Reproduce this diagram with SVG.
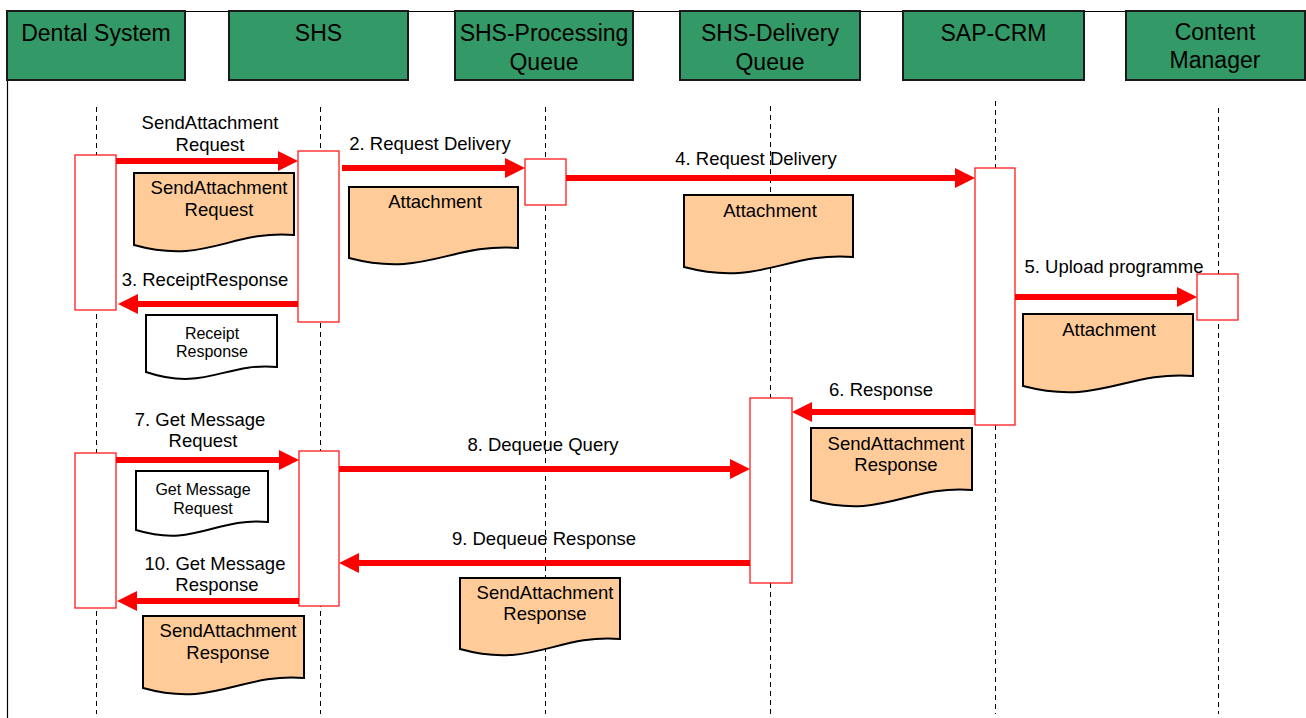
<svg xmlns="http://www.w3.org/2000/svg" width="1306" height="718" viewBox="0 0 1306 718">
<style>
text{font-family:"Liberation Sans",Arial,sans-serif;fill:#000;text-anchor:middle}
.hdr rect{fill:#339966;stroke:#1a1a1a;stroke-width:2}
.hdr text{font-size:23px}
.life{stroke:#000;stroke-width:1;stroke-dasharray:5 4;fill:none}
.act{fill:#fff;stroke:#ff1a1a;stroke-width:1.3}
.doc path{fill:#ffcc99;stroke:#000;stroke-width:2}
.doc.w path{fill:#fff}
.doc text{font-size:18.5px}
.doc.w text{font-size:16px}
.msg line{stroke:#ff0000;stroke-width:6;marker-end:url(#ah)}
.msg text{font-size:18.5px}
</style>
<defs>
<marker id="ah" viewBox="0 0 20 20" markerWidth="20" markerHeight="20" refX="2" refY="10" orient="auto" markerUnits="userSpaceOnUse">
<path d="M0,0 L20,10 L0,20 Z" fill="#ff0000"/>
</marker>
</defs>
<rect width="1306" height="718" fill="#fff"/>
<path d="M7.5,718 V11.5 H1306" fill="none" stroke="#000" stroke-width="1.2"/>

<g id="lifelines">
<line class="life" x1="96.5" y1="107" x2="96.5" y2="714"/>
<line class="life" x1="320.5" y1="107" x2="320.5" y2="714"/>
<line class="life" x1="545.5" y1="107" x2="545.5" y2="714"/>
<line class="life" x1="770.5" y1="106" x2="770.5" y2="714"/>
<line class="life" x1="995.5" y1="101" x2="995.5" y2="714"/>
<line class="life" x1="1218.5" y1="108" x2="1218.5" y2="714"/>
</g>

<g id="hdr-dental" class="hdr"><rect x="7" y="11" width="178" height="69"/><text x="96" y="41">Dental System</text></g>
<g id="hdr-shs" class="hdr"><rect x="229" y="11" width="179" height="69"/><text x="318.5" y="41">SHS</text></g>
<g id="hdr-proc" class="hdr"><rect x="455" y="11" width="178" height="69"/><text x="544" y="41">SHS-Processing</text><text x="544" y="70">Queue</text></g>
<g id="hdr-deliv" class="hdr"><rect x="680" y="11" width="180" height="69"/><text x="770" y="41">SHS-Delivery</text><text x="770" y="70">Queue</text></g>
<g id="hdr-sap" class="hdr"><rect x="903" y="11" width="181" height="69"/><text x="993.5" y="41">SAP-CRM</text></g>
<g id="hdr-cm" class="hdr"><rect x="1126" y="11" width="179" height="69"/><text x="1215" y="40">Content</text><text x="1215" y="68">Manager</text></g>

<g id="doc1" class="doc"><path d="M134,173 H294 V235 C230,230 206,265 134,245 Z"/><text x="219" y="193.5">SendAttachment</text><text x="219" y="215.5">Request</text></g>
<g id="doc2" class="doc"><path d="M349,187 H518 V248 C450,243 425,278 349,258 Z"/><text x="435" y="207.5">Attachment</text></g>
<g id="doc3" class="doc"><path d="M684,195 H853 V257 C785,252 760,287 684,267 Z"/><text x="770" y="216.5">Attachment</text></g>
<g id="doc4" class="doc"><path d="M1023,314 H1193 V376 C1125,371 1100,406 1023,386 Z"/><text x="1109" y="335.5">Attachment</text></g>
<g id="doc5" class="doc"><path d="M811,428 H972 V490 C908,485 883,520 811,500 Z"/><text x="896" y="449.5">SendAttachment</text><text x="896" y="470.5">Response</text></g>
<g id="doc6" class="doc w"><path d="M146,315 H277 V367 C225,362 205,392 146,372 Z"/><text x="212" y="338.7">Receipt</text><text x="212" y="356.7">Response</text></g>
<g id="doc7" class="doc w"><path d="M136,471 H268 V522 C215,517 195,548 136,530 Z"/><text x="203" y="494.7">Get Message</text><text x="203" y="513.7">Request</text></g>
<g id="doc8" class="doc"><path d="M143,616 H304 V678 C240,673 215,708 143,688 Z"/><text x="228" y="636.5">SendAttachment</text><text x="228" y="658.5">Response</text></g>
<g id="doc9" class="doc"><path d="M460,578 H620 V639 C556,634 532,669 460,649 Z"/><text x="545" y="598.5">SendAttachment</text><text x="545" y="619.5">Response</text></g>

<g id="activations">
<rect class="act" x="75" y="155" width="41" height="155"/>
<rect class="act" x="298" y="151" width="41" height="171"/>
<rect class="act" x="525" y="159" width="41" height="46"/>
<rect class="act" x="975" y="168" width="40" height="257"/>
<rect class="act" x="1197" y="274" width="41" height="46"/>
<rect class="act" x="750" y="398" width="42" height="185"/>
<rect class="act" x="75" y="453" width="41" height="155"/>
<rect class="act" x="299" y="451" width="40" height="155"/>
</g>

<g id="connectors" class="msg">
<line x1="116" y1="161" x2="280" y2="161"/>
<text x="210" y="128.5">SendAttachment</text><text x="210" y="150.5">Request</text>
<line x1="342" y1="168" x2="507" y2="168"/>
<text x="430" y="149.5">2. Request Delivery</text>
<line x1="298" y1="304" x2="136" y2="304"/>
<text x="205" y="285.5">3. ReceiptResponse</text>
<line x1="566" y1="178" x2="957" y2="178"/>
<text x="756" y="164.5">4. Request Delivery</text>
<line x1="1015" y1="297" x2="1179" y2="297"/>
<text x="1114" y="272.5">5. Upload programme</text>
<line x1="975" y1="412" x2="810" y2="412"/>
<text x="881" y="395.5">6. Response</text>
<line x1="116" y1="460" x2="281" y2="460"/>
<text x="200" y="425.5">7. Get Message</text><text x="203" y="446.5">Request</text>
<line x1="339" y1="469" x2="732" y2="469"/>
<text x="543" y="450.5">8. Dequeue Query</text>
<line x1="750" y1="563" x2="357" y2="563"/>
<text x="544" y="544.5">9. Dequeue Response</text>
<line x1="299" y1="601" x2="135" y2="601"/>
<text x="215" y="569.5">10. Get Message</text><text x="217" y="590.5">Response</text>
</g>
</svg>
